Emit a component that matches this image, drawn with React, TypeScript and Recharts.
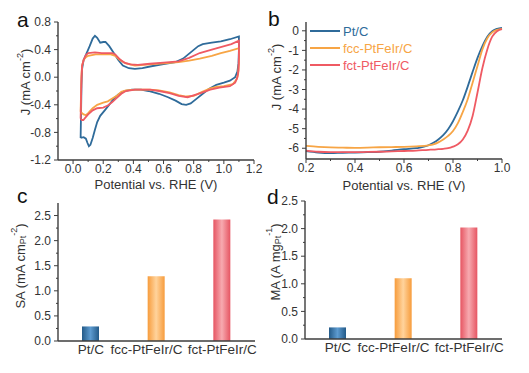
import { LineChart, Line, BarChart, Bar, Cell, XAxis, YAxis, Legend } from 'recharts'

const FONT = '"Liberation Sans", Arial, Helvetica, sans-serif'
const AXIS = '#3d3d3d'
const TEXT = '#333333'

const seriesNames = ['Pt/C', 'fcc-PtFeIr/C', 'fct-PtFeIr/C']
const seriesColors = ['#2f6b9a', '#f7a545', '#ef5a63']

// (a) CV loops: [potential V, J mA cm-2], anodic sweep then cathodic back
const cvPtC: [number, number][] = [
  [0.05, -0.88], [0.053, -0.5], [0.056, -0.1], [0.06, 0.12], [0.07, 0.25], [0.09, 0.35], [0.11, 0.45],
  [0.13, 0.56], [0.145, 0.6], [0.16, 0.57], [0.18, 0.5], [0.2, 0.51], [0.215, 0.51], [0.24, 0.45],
  [0.27, 0.35], [0.3, 0.25], [0.33, 0.17], [0.37, 0.13], [0.41, 0.12], [0.46, 0.13], [0.51, 0.155],
  [0.6, 0.19], [0.68, 0.22], [0.73, 0.27], [0.78, 0.36], [0.83, 0.45], [0.86, 0.48], [0.92, 0.5],
  [0.98, 0.52], [1.04, 0.55], [1.1, 0.59],
  [1.1, 0.4], [1.097, 0.2], [1.09, 0.08], [1.075, 0.0], [1.04, -0.05], [1.0, -0.08], [0.95, -0.11],
  [0.9, -0.17], [0.86, -0.24], [0.82, -0.31], [0.78, -0.38], [0.75, -0.4], [0.72, -0.39], [0.68, -0.34],
  [0.63, -0.29], [0.57, -0.24], [0.5, -0.2], [0.45, -0.18], [0.39, -0.18], [0.34, -0.2], [0.3, -0.25],
  [0.27, -0.31], [0.24, -0.4], [0.21, -0.48], [0.18, -0.56], [0.16, -0.65], [0.145, -0.76], [0.13, -0.88],
  [0.115, -0.98], [0.105, -1.0], [0.095, -0.95], [0.085, -0.89], [0.07, -0.87], [0.05, -0.88],
]
const cvFcc: [number, number][] = [
  [0.05, -0.5], [0.053, -0.2], [0.056, 0.05], [0.06, 0.17], [0.07, 0.25], [0.085, 0.29], [0.1, 0.31],
  [0.15, 0.33], [0.2, 0.33], [0.25, 0.33], [0.28, 0.31], [0.31, 0.25], [0.35, 0.2], [0.41, 0.17],
  [0.51, 0.185], [0.6, 0.2], [0.7, 0.22], [0.77, 0.24], [0.84, 0.27], [0.92, 0.31], [0.98, 0.35],
  [1.04, 0.38], [1.1, 0.42],
  [1.1, 0.2], [1.095, 0.05], [1.085, -0.03], [1.06, -0.1], [1.0, -0.13], [0.95, -0.14], [0.91, -0.16],
  [0.86, -0.21], [0.8, -0.27], [0.75, -0.28], [0.7, -0.26], [0.64, -0.22], [0.57, -0.19], [0.51, -0.18],
  [0.41, -0.18], [0.35, -0.19], [0.32, -0.21], [0.29, -0.27], [0.26, -0.31], [0.23, -0.35], [0.2, -0.37],
  [0.16, -0.4], [0.13, -0.45], [0.1, -0.52], [0.085, -0.55], [0.07, -0.54], [0.058, -0.52], [0.05, -0.5],
]
const cvFct: [number, number][] = [
  [0.05, -0.6], [0.053, -0.3], [0.056, 0.0], [0.06, 0.17], [0.07, 0.25], [0.085, 0.32], [0.1, 0.35],
  [0.145, 0.36], [0.19, 0.35], [0.23, 0.35], [0.26, 0.35], [0.28, 0.33], [0.31, 0.26], [0.34, 0.21],
  [0.38, 0.185], [0.43, 0.18], [0.51, 0.195], [0.6, 0.21], [0.7, 0.23], [0.77, 0.28], [0.84, 0.35],
  [0.92, 0.4], [0.985, 0.44], [1.05, 0.48], [1.1, 0.53],
  [1.1, 0.3], [1.097, 0.1], [1.09, 0.0], [1.075, -0.08], [1.04, -0.13], [0.97, -0.15], [0.91, -0.18],
  [0.86, -0.22], [0.82, -0.25], [0.76, -0.29], [0.7, -0.27], [0.64, -0.23], [0.57, -0.2], [0.51, -0.18],
  [0.41, -0.18], [0.35, -0.2], [0.32, -0.24], [0.29, -0.3], [0.26, -0.36], [0.23, -0.41], [0.2, -0.44],
  [0.16, -0.45], [0.13, -0.48], [0.1, -0.54], [0.08, -0.59], [0.068, -0.62], [0.058, -0.62], [0.05, -0.6],
]

// (b) LSV polarization curves
const lsvPotential = [0.2, 0.25, 0.3, 0.35, 0.4, 0.45, 0.5, 0.55, 0.6, 0.65, 0.7, 0.72, 0.74, 0.76, 0.78, 0.8, 0.82, 0.84, 0.86, 0.88, 0.9, 0.92, 0.94, 0.96, 0.98, 1.0]
const lsvPtC = [-6.15, -6.22, -6.25, -6.23, -6.22, -6.2, -6.18, -6.12, -6.05, -6.0, -5.85, -5.72, -5.55, -5.33, -5.03, -4.62, -4.12, -3.55, -2.85, -2.1, -1.38, -0.78, -0.3, -0.02, 0.1, 0.15]
const lsvFcc = [-5.88, -5.93, -5.96, -5.97, -5.98, -5.97, -5.95, -5.94, -5.93, -5.9, -5.85, -5.8, -5.7, -5.55, -5.37, -5.12, -4.72, -4.15, -3.5, -2.65, -1.8, -0.95, -0.38, -0.08, 0.05, 0.1]
const lsvFct = [-6.12, -6.18, -6.2, -6.2, -6.2, -6.19, -6.18, -6.16, -6.14, -6.12, -6.08, -6.07, -6.05, -6.03, -6.0, -5.92, -5.8, -5.55, -5.1, -4.35, -3.15, -1.9, -0.95, -0.3, -0.02, 0.08]

// (c) specific activity, (d) mass activity
const saValues = [0.29, 1.29, 2.42]
const maValues = [0.21, 1.1, 2.02]

// ticks
const cvXMajor = [0, 0.2, 0.4, 0.6, 0.8, 1.0, 1.2]
const cvXMinor = [0.1, 0.3, 0.5, 0.7, 0.9, 1.1]
const cvYMajor = [-1.2, -0.8, -0.4, 0, 0.4, 0.8]
const cvYMinor = [-1.0, -0.6, -0.2, 0.2, 0.6]
const lsvXMajor = [0.2, 0.4, 0.6, 0.8, 1.0]
const lsvXMinor = [0.3, 0.5, 0.7, 0.9]
const lsvYMajor = [-6, -5, -4, -3, -2, -1, 0]
const lsvYMinor = [-5.5, -4.5, -3.5, -2.5, -1.5, -0.5]
const actYMajor = [0, 0.5, 1.0, 1.5, 2.0, 2.5]
const actYMinor = [0.25, 0.75, 1.25, 1.75, 2.25]

const catLabelNudge = [0, -10, 0]

const barGrad = [
  ['#235a88', '#5d9bd0'],
  ['#f79c3c', '#ffd39c'],
  ['#e65562', '#f7aab0'],
]

const toPts = (arr: [number, number][]) => arr.map(([v, j]) => ({ v, j }))
const lsvData = lsvPotential.map((v, i) => ({ v, ptc: lsvPtC[i], fcc: lsvFcc[i], fct: lsvFct[i] }))
const saData = seriesNames.map((name, i) => ({ name, val: saValues[i] }))
const maData = seriesNames.map((name, i) => ({ name, val: maValues[i] }))

const fmt1 = (v: number) => v.toFixed(1)
const fmt0 = (v: number) => String(Math.round(v))

function leftTick(majors: number[], fmt: (v: number) => string) {
  return (p: any) => {
    const v = Number(p.payload.value)
    const major = majors.some(m => Math.abs(m - v) < 1e-6)
    const len = major ? 4 : 2
    return (
      <g>
        <line x1={p.x - len} x2={p.x} y1={p.y} y2={p.y} stroke={AXIS} strokeWidth={1} />
        {major && (
          <text x={p.x - 7} y={p.y} dy={4.2} textAnchor="end" fontSize={12} fill={TEXT} fontFamily={FONT}>
            {fmt(v)}
          </text>
        )}
      </g>
    )
  }
}

function bottomTick(majors: number[], fmt: (v: number) => string) {
  return (p: any) => {
    const v = Number(p.payload.value)
    const major = majors.some(m => Math.abs(m - v) < 1e-6)
    const len = major ? 4 : 2
    return (
      <g>
        <line x1={p.x} x2={p.x} y1={p.y} y2={p.y + len} stroke={AXIS} strokeWidth={1} />
        {major && (
          <text x={p.x} y={p.y + 13} textAnchor="middle" fontSize={12} fill={TEXT} fontFamily={FONT}>
            {fmt(v)}
          </text>
        )}
      </g>
    )
  }
}

const catTick = (p: any) => (
  <text x={p.x + (catLabelNudge[p.index] || 0)} y={p.y + 12.5} textAnchor="middle" fontSize={13.5} fill={TEXT} fontFamily={FONT}>
    {p.payload.value}
  </text>
)

function RotTitle({ cx, cy, children }: { cx: number; cy: number; children: any }) {
  return (
    <text transform={`rotate(-90 ${cx} ${cy})`} x={cx} y={cy} textAnchor="middle" dominantBaseline="central"
      fontSize={13} fill={TEXT} fontFamily={FONT}>
      {children}
    </text>
  )
}

const xTitle = (cx: number, y: number) => () => (
  <text x={cx} y={y} textAnchor="middle" fontSize={13} fill={TEXT} fontFamily={FONT}>Potential vs. RHE (V)</text>
)

const jTitle = (cx: number, cy: number) => () => (
  <RotTitle cx={cx} cy={cy}>
    J (mA cm<tspan dy={-5} fontSize={9}>-2</tspan><tspan dy={5}>)</tspan>
  </RotTitle>
)

const renderLegend = () => (
  <div style={{ fontFamily: FONT, fontSize: 13 }}>
    {seriesNames.map((n, i) => (
      <div key={n} style={{ display: 'flex', alignItems: 'center', height: 17 }}>
        <span style={{ display: 'inline-block', width: 30, borderTop: `2px solid ${seriesColors[i]}`, marginRight: 3 }} />
        <span style={{ color: seriesColors[i] }}>{n}</span>
      </div>
    ))}
  </div>
)

const letter = (ch: string, left: number, top: number) => (
  <div style={{ position: 'absolute', left, top, fontFamily: FONT, fontSize: 21, lineHeight: '21px', color: '#111' }}>{ch}</div>
)

function BarPanel({ data, domainTop, top, width, yWidth, right, id, title }: any) {
  const frame = { stroke: AXIS, strokeWidth: 1.4 }
  return (
    <BarChart width={width} height={186} data={data} margin={{ top, right, bottom: 0, left: 0 }}>
      <defs>
        {barGrad.map((g, i) => (
          <linearGradient key={i} id={`${id}${i}`} x1="0" y1="0" x2="1" y2="0">
            <stop offset="0%" stopColor={g[0]} />
            <stop offset="50%" stopColor={g[1]} />
            <stop offset="100%" stopColor={g[0]} />
          </linearGradient>
        ))}
      </defs>
      <XAxis dataKey="name" type="category" height={186 - top - 138} axisLine={frame}
        tickLine={false} tickSize={0} tickMargin={0} interval={0} tick={catTick} />
      <XAxis xAxisId="top" dataKey="name" orientation="top" height={0} tick={false} tickLine={false} axisLine={frame} />
      <YAxis type="number" width={yWidth} domain={[0, domainTop]} ticks={[...actYMajor, ...actYMinor]}
        interval={0} tickSize={0} tickMargin={0} tickLine={false} axisLine={frame}
        tick={leftTick(actYMajor, fmt1)} label={title} />
      <YAxis yAxisId="right" orientation="right" width={0} domain={[0, 1]} tick={false} tickLine={false} axisLine={frame} />
      <Bar dataKey="val" barSize={17} isAnimationActive={false}>
        {data.map((_: any, i: number) => <Cell key={i} fill={`url(#${id}${i})`} />)}
      </Bar>
    </BarChart>
  )
}

export default function App() {
  const frame = { stroke: AXIS, strokeWidth: 1.4 }
  return (
    <div style={{ position: 'absolute', left: 0, top: 0, width: 511, height: 373, overflow: 'hidden', background: '#fff' }}>
      {/* a: CV */}
      <div style={{ position: 'absolute', left: 0, top: 0 }}>
        <LineChart width={265} height={192} margin={{ top: 22, right: 11, bottom: 0, left: 0 }}>
          <XAxis dataKey="v" type="number" domain={[-0.1, 1.2]} ticks={[...cvXMajor, ...cvXMinor]} interval={0}
            height={32} tickSize={0} tickMargin={0} tickLine={false} axisLine={frame}
            tick={bottomTick(cvXMajor, fmt1)} label={xTitle(156, 188.5)} allowDuplicatedCategory={false} />
          <XAxis xAxisId="top" type="number" orientation="top" domain={[-0.1, 1.2]} height={0} tick={false}
            tickLine={false} axisLine={frame} />
          <YAxis type="number" domain={[-1.2, 0.8]} ticks={[...cvYMajor, ...cvYMinor]} interval={0} width={58}
            tickSize={0} tickMargin={0} tickLine={false} axisLine={frame} tick={leftTick(cvYMajor, fmt1)}
            label={jTitle(25, 82)} />
          <YAxis yAxisId="right" orientation="right" width={0} domain={[0, 1]} tick={false} tickLine={false}
            axisLine={frame} />
          {[cvPtC, cvFcc, cvFct].map((s, i) => (
            <Line key={seriesNames[i]} data={toPts(s)} dataKey="j" type="linear" stroke={seriesColors[i]}
              strokeWidth={1.8} dot={false} isAnimationActive={false} />
          ))}
        </LineChart>
      </div>

      {/* b: LSV */}
      <div style={{ position: 'absolute', left: 265, top: 0 }}>
        <LineChart width={264} height={192} data={lsvData} margin={{ top: 22, right: 27, bottom: 0, left: 0 }}>
          <XAxis dataKey="v" type="number" domain={[0.2, 1.0]} ticks={[...lsvXMajor, ...lsvXMinor]} interval={0}
            height={33} tickSize={0} tickMargin={0} tickLine={false} axisLine={frame}
            tick={bottomTick(lsvXMajor, fmt1)} label={xTitle(139, 189.5)} />
          <XAxis xAxisId="top" type="number" orientation="top" domain={[0.2, 1.0]} height={0} tick={false}
            tickLine={false} axisLine={frame} />
          <YAxis type="number" domain={[-6.55, 0.45]} ticks={[...lsvYMajor, ...lsvYMinor]} interval={0} width={41}
            tickSize={0} tickMargin={0} tickLine={false} axisLine={frame} tick={leftTick(lsvYMajor, fmt0)}
            label={jTitle(11, 77)} allowDataOverflow />
          <YAxis yAxisId="right" orientation="right" width={0} domain={[0, 1]} tick={false} tickLine={false}
            axisLine={frame} />
          <Legend layout="vertical" align="center" verticalAlign="middle" content={renderLegend}
            wrapperStyle={{ left: 45, top: 22.5, width: 'auto' }} />
          {['ptc', 'fcc', 'fct'].map((k, i) => (
            <Line key={k} dataKey={k} name={seriesNames[i]} type="monotone" stroke={seriesColors[i]}
              strokeWidth={1.8} dot={false} isAnimationActive={false} />
          ))}
        </LineChart>
      </div>

      {/* c: SA */}
      <div style={{ position: 'absolute', left: 0, top: 186 }}>
        <BarPanel data={saData} domainTop={2.75} top={17} width={265} yWidth={58} right={10} id="gc"
          title={() => (
            <RotTitle cx={20} cy={80}>
              SA (mA cm<tspan dy={3} fontSize={9}>Pt</tspan><tspan dy={-9} fontSize={9}>-2</tspan><tspan dy={6}>)</tspan>
            </RotTitle>
          )} />
      </div>

      {/* d: MA */}
      <div style={{ position: 'absolute', left: 265, top: 186 }}>
        <BarPanel data={maData} domainTop={2.5} top={15} width={264} yWidth={40} right={27} id="gd"
          title={() => (
            <RotTitle cx={10} cy={76}>
              MA (A mg<tspan dy={3} fontSize={9}>Pt</tspan><tspan dy={-9} fontSize={9}>-1</tspan><tspan dy={6}>)</tspan>
            </RotTitle>
          )} />
      </div>

      {letter('a', 17, 9)}
      {letter('b', 268, 8)}
      {letter('c', 17, 185)}
      {letter('d', 267, 186)}
    </div>
  )
}
